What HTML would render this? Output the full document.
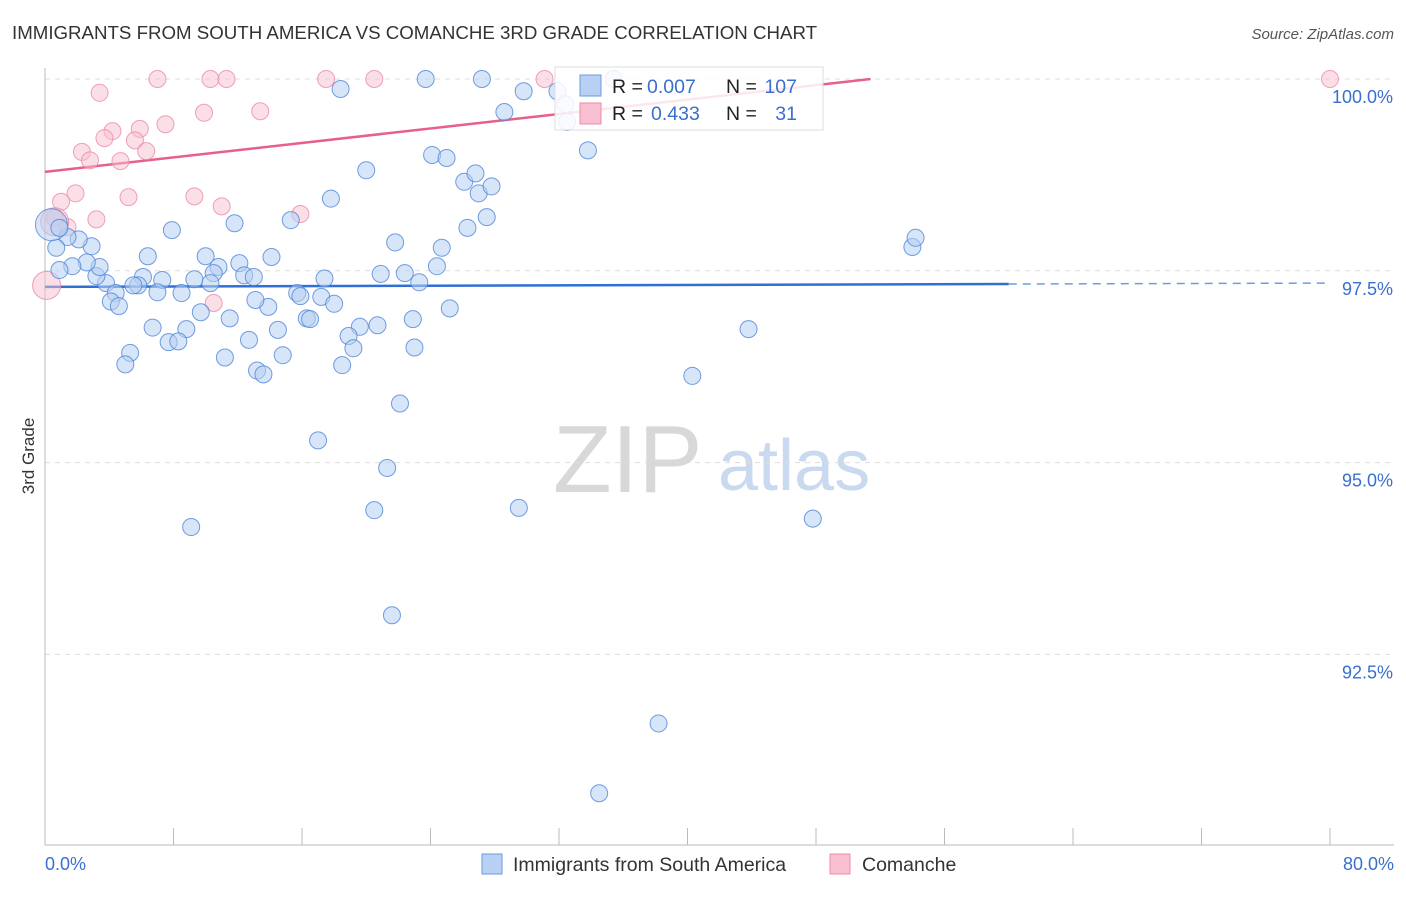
<!DOCTYPE html>
<html><head><meta charset="utf-8"><style>
body{margin:0;background:#fff;font-family:"Liberation Sans",sans-serif;}
svg text{font-family:"Liberation Sans",sans-serif;}
</style></head><body>
<svg id="chart" width="1406" height="892" xmlns="http://www.w3.org/2000/svg">
<text x="12" y="39" font-size="18.7" fill="#333">IMMIGRANTS FROM SOUTH AMERICA VS COMANCHE 3RD GRADE CORRELATION CHART</text>
<text x="1394" y="39" font-size="15" fill="#555" font-style="italic" text-anchor="end">Source: ZipAtlas.com</text>
<text x="34" y="456" font-size="17" fill="#333" text-anchor="middle" transform="rotate(-90 34 456)">3rd Grade</text>
<g>
<text x="553" y="492" font-size="96" fill="#d8d8d8" font-family="Liberation Serif,serif">ZIP</text>
<text x="718" y="490" font-size="72" fill="#c9d9f0">atlas</text>
</g>
<g id="grid"></g><g id="axes"></g><g id="trend"></g><g id="pts"></g>
<g>
<rect x="555" y="67" width="268" height="63" fill="#fff" fill-opacity="0.85" stroke="#ddd"/>
<rect x="580" y="75" width="21" height="21" fill="#b7d0f3" stroke="#6f9be0"/>
<rect x="580" y="103" width="21" height="21" fill="#f8c0d0" stroke="#ec8aa8"/>
<text x="612" y="93" font-size="19.5" fill="#222">R =</text>
<text x="647" y="93" font-size="19.5" fill="#3a6fd0">0.007</text>
<text x="726" y="93" font-size="19.5" fill="#222">N =</text>
<text x="797" y="93" font-size="19.5" fill="#3a6fd0" text-anchor="end">107</text>
<text x="612" y="120" font-size="19.5" fill="#222">R =</text>
<text x="651" y="120" font-size="19.5" fill="#3a6fd0">0.433</text>
<text x="726" y="120" font-size="19.5" fill="#222">N =</text>
<text x="797" y="120" font-size="19.5" fill="#3a6fd0" text-anchor="end">31</text>
</g>
<g>
<rect x="482" y="854" width="20" height="20" fill="#b7d0f3" stroke="#6f9be0"/>
<text x="513" y="871" font-size="19.5" fill="#333">Immigrants from South America</text>
<rect x="830" y="854" width="20" height="20" fill="#f8c0d0" stroke="#ec8aa8"/>
<text x="862" y="871" font-size="19.5" fill="#333">Comanche</text>
</g>
</svg>
<script>
const yTicks=[100,97.5,95,92.5];
const yTickLabels=["100.0%","97.5%","95.0%","92.5%"];
const xTickLabels=["0.0%","80.0%"];
const blueX=[18.4,23.7,27.2,29.8,31.9,35.4,28.6,32.4,32.5,33.8,20.0,24.1,25.0,26.1,26.8,27.0,27.8,17.8,27.5,26.3,15.3,11.8,7.9,21.8,24.7,24.4,20.9,22.4,23.3,14.1,10.0,6.4,12.1,10.8,10.5,12.4,13.0,17.4,9.3,10.3,7.3,6.1,5.8,5.5,3.8,3.2,3.4,2.6,1.7,0.9,2.9,2.1,1.4,0.7,0.4,0.9,4.4,4.1,4.6,7.0,8.5,15.7,15.9,17.2,18.0,13.9,13.1,25.2,22.9,9.7,11.5,16.3,16.5,6.7,8.8,14.5,19.6,20.7,18.9,7.7,8.3,12.7,19.2,23.0,5.3,5.0,11.2,14.8,13.2,13.6,18.5,43.8,40.3,54.0,54.2,22.1,17.0,21.3,20.5,29.5,9.1,47.8,21.6,38.2,34.5];
const blueY=[99.87,100,100,99.84,99.84,100,99.57,99.67,99.44,99.07,98.81,99.01,98.97,98.66,98.77,98.51,98.60,98.44,98.20,98.06,98.16,98.12,98.03,97.87,97.80,97.56,97.46,97.47,97.35,97.68,97.69,97.69,97.60,97.55,97.47,97.44,97.42,97.40,97.39,97.34,97.38,97.42,97.31,97.31,97.34,97.43,97.55,97.61,97.56,97.51,97.82,97.91,97.94,97.80,98.10,98.06,97.21,97.10,97.04,97.22,97.21,97.21,97.17,97.16,97.07,97.03,97.12,97.01,96.87,96.96,96.88,96.88,96.87,96.76,96.74,96.73,96.77,96.79,96.65,96.57,96.58,96.60,96.49,96.50,96.43,96.28,96.37,96.40,96.20,96.15,96.27,96.74,96.13,97.81,97.93,95.77,95.29,94.93,94.38,94.41,94.16,94.27,93.01,91.60,90.69];
const pinkX=[7.0,10.3,11.3,17.5,20.5,31.1,80.0,3.4,9.9,13.4,7.5,5.9,4.2,3.7,5.6,2.3,6.3,2.8,4.7,1.9,5.2,9.3,1.0,11.0,15.9,3.2,0.6,1.4,10.5,0.1,0.6];
const pinkY=[100,100,100,100,100,100,100,99.82,99.56,99.58,99.41,99.35,99.32,99.23,99.20,99.05,99.06,98.94,98.93,98.51,98.46,98.47,98.40,98.34,98.24,98.17,98.19,98.07,97.08,97.31,98.14];
const blueTrend=[97.29,97.34];
const pinkTrend=[98.79,100];const pinkTrendEndX=51.4;
const xs=v=>45+v*(1285/80);
const ys=v=>79+(100-v)*(191.8/2.5);
const NS="http://www.w3.org/2000/svg";
function mk(t,a,p){const e=document.createElementNS(NS,t);for(const k in a)e.setAttribute(k,a[k]);p.appendChild(e);return e;}
const grid=document.getElementById('grid'),axes=document.getElementById('axes'),trend=document.getElementById('trend'),pts=document.getElementById('pts');
yTicks.forEach((v,i)=>{
 const l=mk('line',{x1:45,x2:1394,y1:ys(v),y2:ys(v),stroke:'#ddd','stroke-dasharray':'5,5'},grid);
 
 
 const t=mk('text',{x:1393,y:ys(v)+24,'font-size':18,fill:'#3a6fd0','text-anchor':'end'},axes);
 t.textContent=yTickLabels[i];
 
 
});
const ax=mk('path',{d:'M45 68V845H1394',stroke:'#bbb',fill:'none'},axes);


for(let i=0;i<=10;i++){
 const tk=mk('line',{x1:xs(i*8),x2:xs(i*8),y1:828,y2:845,stroke:'#bbb'},axes);
 
 
}
[[0,'start',45],[80,'end',1394]].forEach((d,i)=>{
 const t=mk('text',{x:d[2],y:870,'font-size':18,fill:'#3a6fd0','text-anchor':d[1]},axes);
 t.textContent=xTickLabels[i];
 
 
});
const yAt=(a,x)=>a[0]+(a[1]-a[0])*x/80;
const b1=mk('line',{x1:xs(0),y1:ys(blueTrend[0]),x2:xs(60),y2:ys(yAt(blueTrend,60)),stroke:'#2f6fd6','stroke-width':2.5},trend);


const b2=mk('line',{x1:xs(60),y1:ys(yAt(blueTrend,60)),x2:xs(80),y2:ys(blueTrend[1]),stroke:'#6f9be0','stroke-width':1.5,'stroke-dasharray':'8,6'},trend);


const p1=mk('line',{x1:xs(0),y1:ys(pinkTrend[0]),x2:xs(pinkTrendEndX),y2:ys(pinkTrend[1]),stroke:'#e8608a','stroke-width':2.5},trend);


pinkX.forEach((x,i)=>{
 const big=(i>=29);
 const c=mk('circle',{cx:xs(x),cy:ys(pinkY[i]),r:big?14:8.5,fill:'#f8c0d0','fill-opacity':0.5,stroke:'#ec8aa8','stroke-opacity':0.8},pts);
 
 
});
blueX.forEach((x,i)=>{
 const big=(i===54);
 const c=mk('circle',{cx:xs(x),cy:ys(blueY[i]),r:big?16:8.5,fill:'#b7d0f3','fill-opacity':0.55,stroke:'#4f86d8','stroke-opacity':0.8},pts);
 
 
});
</script>
</body></html>
